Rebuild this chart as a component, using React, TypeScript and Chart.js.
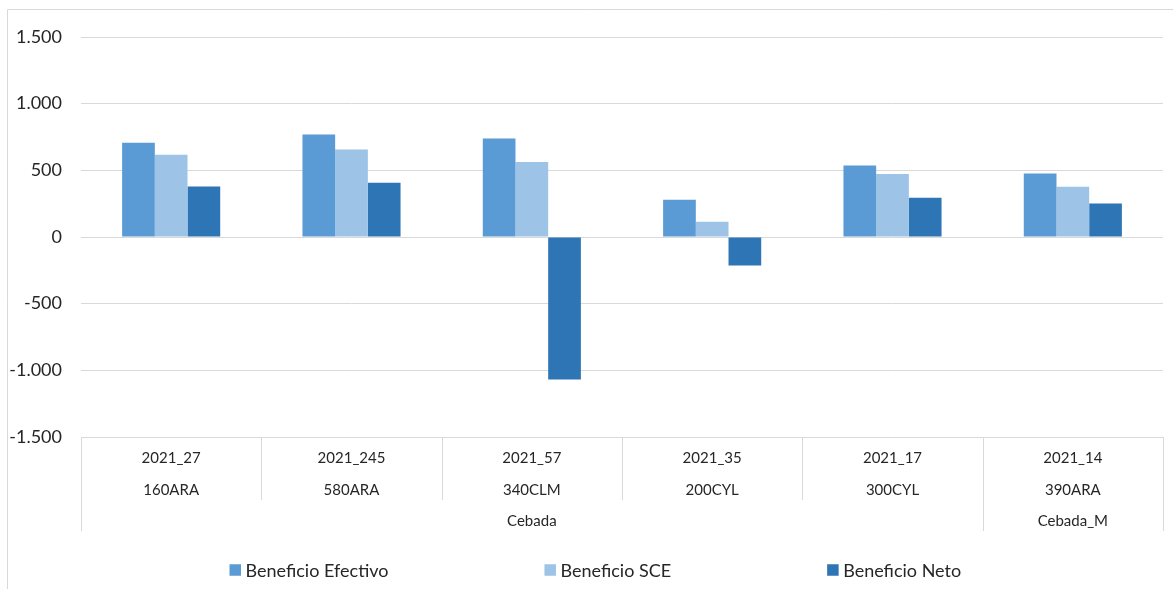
import React, { useEffect, useRef } from "react";
import { Chart, registerables } from "chart.js";

Chart.register(...registerables);

const categories = ["2021_27", "2021_245", "2021_57", "2021_35", "2021_17", "2021_14"];
const regions = ["160ARA", "580ARA", "340CLM", "200CYL", "300CYL", "390ARA"];
const groupLabels = ["Cebada", "Cebada_M"];
const groupSpans = [5, 1];

const seriesNames = ["Beneficio Efectivo", "Beneficio SCE", "Beneficio Neto"];
const beneficioEfectivo = [706, 769, 738, 279, 537, 477];
const beneficioSCE = [616, 656, 563, 115, 472, 377];
const beneficioNeto = [379, 407, -1068, -214, 294, 251];
const seriesColors = ["#5B9BD5", "#9DC3E6", "#2E75B6"];

const yTicks = { min: -1500, max: 1500, step: 500 };

const FONT = "Lato, 'Open Sans', sans-serif";
const TEXT = "#262626";
const LINE = "#d9d9d9";

function fmt(v: number): string {
  const s = Math.abs(v).toString().replace(/\B(?=(\d{3})+(?!\d))/g, ".");
  return (v < 0 ? "-" : "") + s;
}

const frameAndAxisPlugin = {
  id: "frameAndAxis",
  beforeDraw(chart: any) {
    const ctx = chart.ctx;
    ctx.save();
    ctx.fillStyle = "#ffffff";
    ctx.fillRect(0, 0, chart.width, chart.height);
    ctx.strokeStyle = LINE;
    ctx.lineWidth = 1;
    ctx.beginPath();
    ctx.moveTo(7.5, chart.height);
    ctx.lineTo(7.5, 9.5);
    ctx.lineTo(chart.width, 9.5);
    ctx.stroke();
    ctx.restore();
  },
  afterDraw(chart: any) {
    const ctx = chart.ctx;
    const xs = chart.scales.x;
    const area = chart.chartArea;
    const n = categories.length;
    const centers = categories.map((_, i) => xs.getPixelForValue(i));
    const bounds: number[] = [area.left];
    for (let i = 1; i < n; i++) bounds.push((centers[i - 1] + centers[i]) / 2);
    bounds.push(area.right);

    const groupEdges = new Set<number>([0]);
    let acc = 0;
    groupSpans.forEach((s) => {
      acc += s;
      groupEdges.add(acc);
    });

    const top = area.bottom;
    ctx.save();
    ctx.strokeStyle = LINE;
    ctx.lineWidth = 1;
    bounds.forEach((bx, i) => {
      const x = Math.round(bx) + 0.5;
      ctx.beginPath();
      ctx.moveTo(x, top);
      ctx.lineTo(x, groupEdges.has(i) ? top + 94 : top + 63);
      ctx.stroke();
    });

    ctx.fillStyle = TEXT;
    ctx.font = `15px ${FONT}`;
    ctx.textAlign = "center";
    ctx.textBaseline = "middle";
    centers.forEach((cx, i) => {
      ctx.fillText(categories[i], cx, top + 21);
      ctx.fillText(regions[i], cx, top + 53.5);
    });
    let start = 0;
    groupLabels.forEach((g, gi) => {
      const end = start + groupSpans[gi];
      const cx = (bounds[start] + bounds[end]) / 2;
      ctx.fillText(g, cx, top + 84.5);
      start = end;
    });

    // legend
    ctx.font = `18px ${FONT}`;
    ctx.textAlign = "left";
    const box = 11.5;
    const gap = 156;
    let lx = 229.5;
    const ly = 570;
    chart.data.datasets.forEach((ds: any) => {
      ctx.fillStyle = ds.backgroundColor;
      ctx.fillRect(lx, ly - box / 2, box, box);
      ctx.fillStyle = TEXT;
      ctx.fillText(ds.label, lx + box + 4.5, ly + 1);
      lx += box + 4.5 + ctx.measureText(ds.label).width + gap;
    });
    ctx.restore();
  },
};

export default function App() {
  const ref = useRef<HTMLCanvasElement | null>(null);
  useEffect(() => {
    if (!ref.current) return;
    const values = [beneficioEfectivo, beneficioSCE, beneficioNeto];
    const chart = new Chart(ref.current, {
      type: "bar",
      data: {
        labels: categories,
        datasets: seriesNames.map((name, i) => ({
          label: name,
          data: values[i],
          backgroundColor: seriesColors[i],
          borderWidth: 0,
          barPercentage: 1,
          categoryPercentage: 0.544,
        })),
      },
      options: {
        animation: false,
        responsive: false,
        maintainAspectRatio: false,
        devicePixelRatio: 1,
        layout: { padding: { top: 37, right: 10, bottom: 152, left: 0 } },
        plugins: { legend: { display: false }, tooltip: { enabled: false } },
        scales: {
          x: { display: false },
          y: {
            min: yTicks.min,
            max: yTicks.max,
            afterFit: (s: any) => {
              s.width = 81;
            },
            ticks: {
              stepSize: yTicks.step,
              padding: 19,
              color: TEXT,
              font: { family: FONT, size: 18 },
              callback: (v: any) => fmt(Number(v)),
            },
            grid: { color: LINE, lineWidth: 1, drawTicks: false },
            border: { display: false },
          },
        },
      },
      plugins: [frameAndAxisPlugin],
    });
    return () => chart.destroy();
  }, []);
  return (
    <div style={{ position: "absolute", left: 0, top: 0, width: 1173, height: 589, background: "#fff" }}>
      <canvas ref={ref} width={1173} height={589} style={{ width: 1173, height: 589, display: "block" }} />
    </div>
  );
}
